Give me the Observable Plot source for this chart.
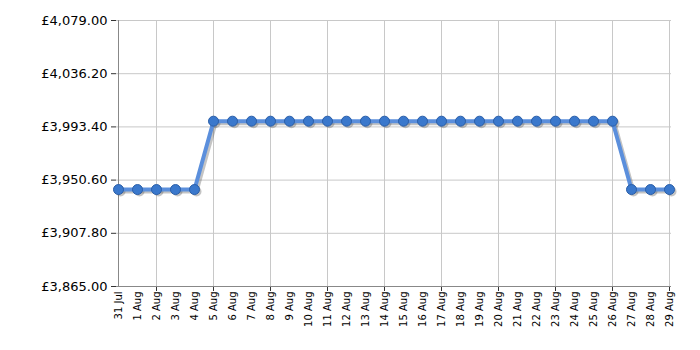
<!DOCTYPE html>
<html>
<head>
<meta charset="utf-8">
<script src="https://cdn.jsdelivr.net/npm/d3@7"></script>
<script src="https://cdn.jsdelivr.net/npm/@observablehq/plot@0.6"></script>
<style>
body { margin: 0; background: #fff; }
</style>
</head>
<body>
<div id="chart"></div>
<script>
const dates = ["31 Jul","1 Aug","2 Aug","3 Aug","4 Aug","5 Aug","6 Aug","7 Aug","8 Aug","9 Aug","10 Aug","11 Aug","12 Aug","13 Aug","14 Aug","15 Aug","16 Aug","17 Aug","18 Aug","19 Aug","20 Aug","21 Aug","22 Aug","23 Aug","24 Aug","25 Aug","26 Aug","27 Aug","28 Aug","29 Aug"];
const prices = [3943,3943,3943,3943,3943,3998,3998,3998,3998,3998,3998,3998,3998,3998,3998,3998,3998,3998,3998,3998,3998,3998,3998,3998,3998,3998,3998,3943,3943,3943];
const yTicks = [3865.00, 3907.80, 3950.60, 3993.40, 4036.20, 4079.00];
const gridDates = ["2 Aug","5 Aug","8 Aug","11 Aug","14 Aug","17 Aug","20 Aug","23 Aug","26 Aug","29 Aug"];

const data = dates.map((d, i) => ({date: d, price: prices[i]}));
const fmt = v => "£" + d3.format(",.2f")(v);

const chart = Plot.plot({
  width: 700,
  height: 350,
  marginLeft: 116,
  marginRight: 29,
  marginTop: 20,
  marginBottom: 64,
  style: {fontFamily: "DejaVu Sans, Verdana, sans-serif", background: "#fff", color: "#000"},
  x: {type: "point", domain: dates, padding: 0},
  y: {domain: [3865, 4079]},
  marks: [
    Plot.ruleY(yTicks, {stroke: "#c8c8c8", strokeWidth: 1}),
    Plot.ruleX(gridDates, {stroke: "#c8c8c8", strokeWidth: 1}),
    Plot.axisY({ticks: yTicks, tickFormat: fmt, tickSize: 5, tickPadding: 4, fontSize: 13, label: null, stroke: "#333"}),
    Plot.axisX({ticks: dates, tickSize: 0, tickPadding: 5, tickRotate: -90, fontSize: 10, label: null}),
    Plot.axisX({ticks: gridDates, tickSize: 5, tickFormat: () => "", label: null, stroke: "#333"}),
    Plot.ruleX([dates[0]], {stroke: "#888", strokeWidth: 1}),
    Plot.ruleY([3865], {stroke: "#888", strokeWidth: 1}),
    Plot.line(data, {x: "date", y: "price", stroke: "#555", strokeOpacity: 0.35, strokeWidth: 4, dx: 2, dy: 2}),
    Plot.dot(data, {x: "date", y: "price", r: 5, fill: "#555", fillOpacity: 0.35, dx: 2, dy: 2}),
    Plot.line(data, {x: "date", y: "price", stroke: "#5b8fdc", strokeWidth: 4}),
    Plot.dot(data, {x: "date", y: "price", r: 5, fill: "#3a78cc", stroke: "#2a5ea8", strokeWidth: 1})
  ]
});
document.getElementById("chart").appendChild(chart);
</script>
</body>
</html>
